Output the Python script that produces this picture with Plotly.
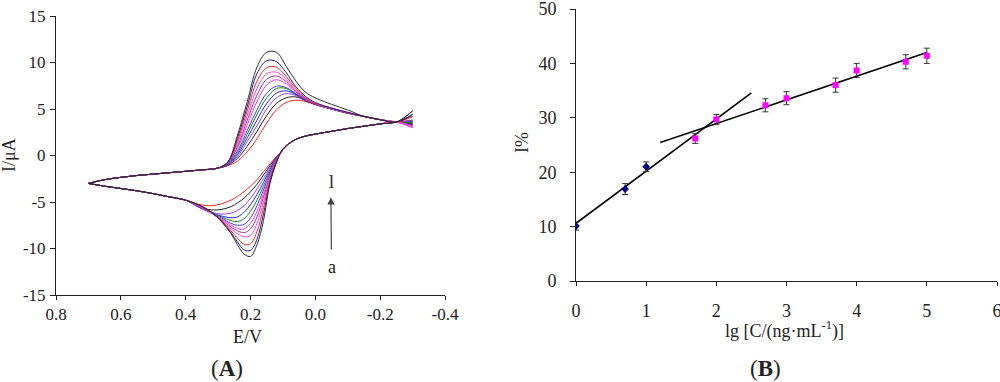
import plotly.graph_objects as go

# ---------------- Panel A: cyclic voltammograms (curves a..l) ----------------
CURVE_NAMES = ["a", "b", "c", "d", "e", "f", "g", "h", "i", "j", "k", "l"]
CURVE_COLORS = ["#ff2020", "#202020", "#9a3cff", "#2020ff", "#1a8a1a", "#4040d0",
                "#ff30ff", "#9a3a9a", "#ff40d8", "#ff2020", "#202090", "#303030"]

# forward (upper) branch, 0.70 V -> -0.30 V
TOP_E_START = [0.70, 0.65, 0.60, 0.55, 0.50, 0.45, 0.40, 0.35, 0.30]
TOP_I_START = [-3.0, -2.6, -2.35, -2.15, -2.0, -1.85, -1.7, -1.55, -1.35]
TOP_E_PEAK = [0.27, 0.24, 0.21, 0.18, 0.15, 0.12, 0.09, 0.06, 0.03, 0.0, -0.05, -0.10]
TOP_I_PEAK = [
    [-1.1, -0.6, 0.4, 1.8, 3.5, 4.9, 5.7, 5.95, 5.8, 5.45, 5.0, 4.55],
    [-1.05, -0.3, 1.0, 2.6, 4.3, 5.6, 6.2, 6.3, 5.9, 5.5, 5.0, 4.55],
    [-1.0, -0.1, 1.5, 3.2, 5.0, 6.2, 6.65, 6.45, 5.95, 5.5, 5.0, 4.55],
    [-0.95, 0.1, 1.9, 3.8, 5.6, 6.7, 6.95, 6.55, 5.95, 5.5, 5.0, 4.55],
    [-0.9, 0.3, 2.3, 4.4, 6.2, 7.2, 7.2, 6.6, 6.0, 5.5, 5.0, 4.55],
    [-0.85, 0.5, 2.7, 4.9, 6.7, 7.45, 7.3, 6.65, 6.0, 5.5, 5.0, 4.55],
    [-0.8, 0.8, 3.3, 5.8, 7.6, 8.15, 7.7, 6.8, 6.05, 5.55, 5.05, 4.6],
    [-0.8, 1.0, 3.8, 6.5, 8.2, 8.55, 7.95, 6.9, 6.1, 5.55, 5.05, 4.6],
    [-0.75, 1.3, 4.3, 7.2, 8.8, 8.95, 8.2, 7.0, 6.15, 5.6, 5.05, 4.6],
    [-0.75, 1.6, 4.8, 8.0, 9.45, 9.5, 8.5, 7.2, 6.2, 5.6, 5.1, 4.6],
    [-0.7, 1.9, 5.3, 8.8, 10.2, 10.1, 8.9, 7.4, 6.35, 5.7, 5.1, 4.65],
    [-0.7, 2.2, 5.8, 9.5, 11.1, 11.1, 9.6, 8.0, 6.8, 6.2, 5.5, 4.9],
]
TOP_E_TAIL = [-0.15, -0.20, -0.25]
TOP_I_TAIL = [4.2, 3.85, 3.6]
E_SWITCH = -0.30
I_SWITCH = [3.3, 3.4, 3.2, 3.6, 3.5, 3.7, 3.0, 3.8, 3.1, 4.2, 4.4, 4.8]

# reverse (lower) branch, -0.30 V -> 0.70 V
BOT_E_LOW = [-0.25, -0.20, -0.15, -0.10, -0.05, 0.0, 0.04, 0.07]
BOT_I_LOW = [3.6, 3.4, 3.15, 2.9, 2.6, 2.3, 2.0, 1.55]
BOT_E_PEAK = [0.10, 0.12, 0.14, 0.16, 0.18, 0.20, 0.22, 0.24, 0.26, 0.29, 0.32, 0.36]
BOT_I_PEAK = [
    [0.6, -0.1, -0.9, -1.75, -2.6, -3.3, -3.9, -4.4, -4.8, -5.2, -5.4, -5.25],
    [0.6, -0.2, -1.1, -2.1, -3.1, -3.9, -4.6, -5.1, -5.5, -5.8, -5.85, -5.5],
    [0.6, -0.25, -1.3, -2.5, -3.6, -4.6, -5.4, -5.9, -6.2, -6.3, -6.1, -5.55],
    [0.6, -0.3, -1.5, -2.9, -4.2, -5.3, -6.1, -6.6, -6.7, -6.5, -6.2, -5.55],
    [0.6, -0.35, -1.7, -3.3, -4.8, -6.0, -6.8, -7.1, -7.0, -6.6, -6.1, -5.5],
    [0.6, -0.4, -1.9, -3.7, -5.4, -6.7, -7.4, -7.5, -7.3, -6.7, -6.15, -5.5],
    [0.6, -0.45, -2.1, -4.1, -6.0, -7.3, -7.9, -7.85, -7.5, -6.8, -6.2, -5.45],
    [0.6, -0.5, -2.3, -4.5, -6.6, -7.9, -8.3, -8.1, -7.7, -6.9, -6.2, -5.4],
    [0.65, -0.55, -2.5, -5.0, -7.3, -8.6, -8.75, -8.4, -7.9, -7.0, -6.2, -5.4],
    [0.65, -0.6, -2.7, -5.6, -8.2, -9.5, -9.55, -8.9, -8.1, -7.0, -6.15, -5.35],
    [0.7, -0.7, -2.9, -6.3, -9.0, -10.2, -10.15, -9.3, -8.3, -7.05, -6.1, -5.3],
    [0.7, -0.8, -3.0, -7.0, -9.6, -10.85, -10.6, -9.6, -8.4, -7.1, -6.1, -5.3],
]
BOT_E_HIGH = [0.40, 0.45, 0.50, 0.55, 0.60, 0.65, 0.70]
BOT_I_HIGH = [-4.8, -4.45, -4.1, -3.8, -3.55, -3.3, -3.0]

A_XTICKS = [0.8, 0.6, 0.4, 0.2, 0.0, -0.2, -0.4]
A_XTICKTEXT = ["0.8", "0.6", "0.4", "0.2", "0.0", "-0.2", "-0.4"]
A_YTICKS = [15, 10, 5, 0, -5, -10, -15]
A_YTICKTEXT = ["15", "10", "5", "0", "-5", "-10", "-15"]

# ---------------- Panel B: calibration ----------------
B_LOW_X = [0, 0.7, 1.0]
B_LOW_Y = [10.1, 16.9, 21.0]
B_LOW_ERR = [0.75, 1.0, 0.9]
B_HIGH_X = [1.7, 2.0, 2.7, 3.0, 3.7, 4.0, 4.7, 5.0]
B_HIGH_Y = [26.2, 29.7, 32.3, 33.6, 36.0, 38.7, 40.3, 41.4]
B_HIGH_ERR = [0.9, 0.9, 1.2, 1.2, 1.3, 1.3, 1.3, 1.4]
FIT1_X = [0.0, 2.5]
FIT1_Y = [10.6, 34.6]
FIT2_X = [1.2, 5.0]
FIT2_Y = [25.45, 42.0]
B_XTICKS = [0, 1, 2, 3, 4, 5, 6]
B_YTICKS = [0, 10, 20, 30, 40, 50]

FONT = "Liberation Serif, Times New Roman, serif"
TXT = "#222222"

fig = go.Figure()

for idx, name in enumerate(CURVE_NAMES):
    col = CURVE_COLORS[idx]
    top_x = TOP_E_START + TOP_E_PEAK + TOP_E_TAIL + [E_SWITCH]
    top_y = TOP_I_START + TOP_I_PEAK[idx] + TOP_I_TAIL + [I_SWITCH[idx]]
    bot_x = [E_SWITCH] + BOT_E_LOW + BOT_E_PEAK + BOT_E_HIGH
    bot_y = [I_SWITCH[idx]] + BOT_I_LOW + BOT_I_PEAK[idx] + BOT_I_HIGH
    for xs, ys in ((top_x, top_y), (bot_x, bot_y)):
        fig.add_trace(go.Scatter(x=xs, y=ys, mode="lines", xaxis="x", yaxis="y",
                                 line=dict(color=col, width=1, shape="spline", smoothing=1.0),
                                 showlegend=False, hoverinfo="skip"))

fig.add_trace(go.Scatter(x=FIT1_X, y=FIT1_Y, mode="lines", xaxis="x2", yaxis="y2",
                         line=dict(color="black", width=1.6), showlegend=False))
fig.add_trace(go.Scatter(x=FIT2_X, y=FIT2_Y, mode="lines", xaxis="x2", yaxis="y2",
                         line=dict(color="black", width=1.6), showlegend=False))
fig.add_trace(go.Scatter(x=B_LOW_X, y=B_LOW_Y, mode="markers", xaxis="x2", yaxis="y2",
                         marker=dict(symbol="diamond", size=6, color="#000080"),
                         error_y=dict(type="data", array=B_LOW_ERR, color="#333333",
                                      thickness=1, width=3),
                         showlegend=False))
fig.add_trace(go.Scatter(x=B_HIGH_X, y=B_HIGH_Y, mode="markers", xaxis="x2", yaxis="y2",
                         marker=dict(symbol="square", size=6, color="#ff00ff"),
                         error_y=dict(type="data", array=B_HIGH_ERR, color="#333333",
                                      thickness=1, width=3),
                         showlegend=False))

axis_common = dict(showgrid=False, zeroline=False, showline=True, linecolor="#222222",
                   linewidth=1, ticks="outside", tickcolor="#222222", automargin=False,
                   ticklabeloverflow="allow")

fig.update_layout(
    width=1000, height=382,
    margin=dict(l=0, r=0, t=0, b=0, autoexpand=False),
    paper_bgcolor="white", plot_bgcolor="white",
    font=dict(family=FONT, size=15, color=TXT),
    xaxis=dict(domain=[0.056, 0.445], range=[0.8, -0.4], anchor="y", ticklen=4,
               tickvals=A_XTICKS, ticktext=A_XTICKTEXT, ticklabelstandoff=0,
               tickfont=dict(family=FONT, size=17, color=TXT), **axis_common),
    yaxis=dict(domain=[1 - 295 / 382, 1 - 16 / 382], range=[-15, 15], anchor="x", ticklen=5,
               tickvals=A_YTICKS, ticktext=A_YTICKTEXT, ticklabelstandoff=1,
               tickfont=dict(family=FONT, size=17, color=TXT), **axis_common),
    xaxis2=dict(domain=[0.576, 0.997], range=[0, 6], anchor="y2", ticklen=4,
                tickvals=B_XTICKS, ticklabelstandoff=9,
                tickfont=dict(family=FONT, size=18, color=TXT), **axis_common),
    yaxis2=dict(domain=[1 - 281 / 382, 1 - 9 / 382], range=[0, 50], anchor="x2", ticklen=5,
                tickvals=B_YTICKS, ticklabelstandoff=10,
                tickfont=dict(family=FONT, size=18, color=TXT), **axis_common),
)

ann = [
    dict(text="E/V", x=247 / 1000, y=1 - 337 / 382, size=18),
    dict(text="I/μA", x=9 / 1000, y=1 - 155 / 382, textangle=-90, size=18),
    dict(text="(<b>A</b>)", x=227 / 1000, y=1 - 368 / 382, size=23),
    dict(text="lg [C/(ng·mL<sup>-1</sup>)]", x=784 / 1000, y=1 - 330 / 382, size=18),
    dict(text="I%", x=522 / 1000, y=1 - 143 / 382, textangle=-90, size=18),
    dict(text="(<b>B</b>)", x=765 / 1000, y=1 - 368 / 382, size=23),
]
for a in ann:
    fig.add_annotation(text=a["text"], x=a["x"], y=a["y"], xref="paper", yref="paper",
                       showarrow=False, xanchor="center", yanchor="middle",
                       textangle=a.get("textangle", 0),
                       font=dict(family=FONT, size=a.get("size", 16), color=TXT))

# curve labels and arrow in panel A ("a" sits at the arrow's tail)
fig.add_annotation(text="l", x=-0.05, y=-2.85, xref="x", yref="y", showarrow=False,
                   font=dict(family=FONT, size=18, color=TXT))
fig.add_annotation(text="a", x=-0.048, y=-4.5, ax=-0.05, ay=-12.0, xref="x", yref="y",
                   axref="x", ayref="y", showarrow=True, arrowhead=2, startstandoff=6,
                   arrowsize=1.2, arrowwidth=1.2, arrowcolor="#444444",
                   font=dict(family=FONT, size=18, color=TXT))

# remove the browser's default 8px body margin so the figure fills the window exactly
fig.write_html("out.html", config={"displayModeBar": False},
               post_script="document.body.style.margin='0';document.body.style.overflow='hidden';")
